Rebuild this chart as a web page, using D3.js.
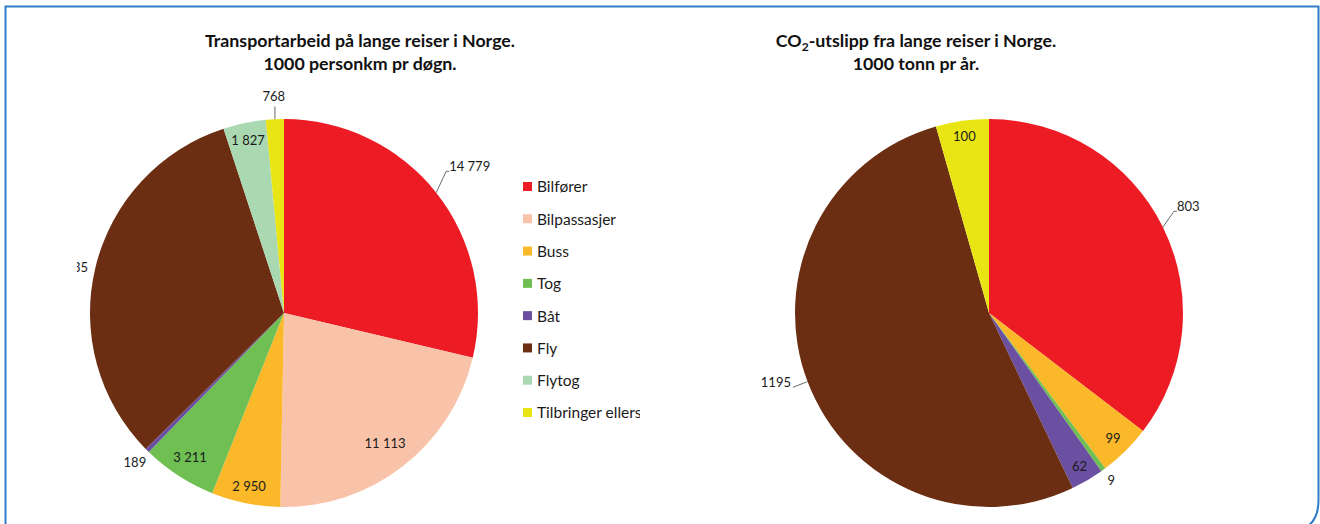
<!DOCTYPE html>
<html><head><meta charset="utf-8">
<script src="https://cdn.jsdelivr.net/npm/d3@7"></script>
<style>html,body{margin:0;padding:0;background:#fff;overflow:hidden}svg{display:block}</style>
</head><body>
<svg id="c" width="1320" height="524"></svg>
<script>
const categories = ["Bilfører","Bilpassasjer","Buss","Tog","Båt","Fly","Flytog","Tilbringer ellers"];
const transportValues = [14779, 11113, 2950, 3211, 189, 16635, 1827, 768];
const co2Values = [803, 0, 99, 9, 62, 1195, 0, 100];
const colors = ["#ED1C24","#F9C3A9","#FBB829","#6FBF53","#6B4FA0","#6B2E12","#AAD8B0","#E9E514"];
const titleLeft = ["Transportarbeid på lange reiser i Norge.","1000 personkm pr døgn."];

const svg = d3.select("#c");
const FONT = "Lato, 'Open Sans', sans-serif";

// frame
svg.append("path")
  .attr("d","M5.5,540 L5.5,6.5 L1318.5,6.5 L1318.5,500 Q1318.5,532 1286,532 L5.5,532")
  .attr("fill","none").attr("stroke","#2F7DC9").attr("stroke-width",2);

const color = d3.scaleOrdinal().domain(categories).range(colors);
const R = 194;
const fmtSpace = v => d3.format(",")(v).replace(/,/g, " ");

function drawPie(cfg){
  const g = svg.append("g");
  if (cfg.clip){
    svg.append("clipPath").attr("id",cfg.clip.id).append("rect")
      .attr("x",cfg.clip.x).attr("y",cfg.clip.y).attr("width",cfg.clip.w).attr("height",cfg.clip.h);
    g.attr("clip-path","url(#"+cfg.clip.id+")");
  }
  const pg = g.append("g").attr("transform",`translate(${cfg.cx},${cfg.cy})`);
  const data = categories.map((c,i)=>({cat:c, value:cfg.values[i], i}));
  const pie = d3.pie().value(d=>d.value).sort(null);
  const arcs = pie(data);
  const arc = d3.arc().innerRadius(0).outerRadius(R);
  pg.selectAll("path.s").data(arcs.filter(a=>a.data.value>0)).join("path")
    .attr("class","s").attr("d",arc).attr("fill",d=>color(d.data.cat));
  arcs.forEach((a,i)=>{
    const spec = cfg.labels[i];
    if (!spec || a.data.value<=0) return;
    const mid = (a.startAngle+a.endAngle)/2;
    const la = mid + (spec.da||0)*Math.PI/180;
    const sx = Math.sin(mid), sy = -Math.cos(mid);
    const px = Math.sin(la)*R*spec.k, py = -Math.cos(la)*R*spec.k;
    const txt = cfg.fmt(a.data.value);
    const t = pg.append("text").attr("x",px).attr("y",py).attr("dy","0.35em")
      .attr("text-anchor","middle").attr("font-family",FONT).attr("font-size",13)
      .attr("fill","#1b1b1b").text(txt);
    if (spec.leader){
      const bb = t.node().getBBox();
      const ex = sx*R, ey = sy*R;
      const base = py + 5;
      let pts;
      if (spec.leader === "top"){
        pts = [[ex,ey],[ex,bb.y+bb.height+3]];
      } else if (sx > 0){
        pts = [[ex,ey],[bb.x-3,base],[bb.x,base]];
      } else {
        pts = [[ex,ey],[bb.x+bb.width+2,base]];
      }
      pg.append("path").attr("d",d3.line()(pts)).attr("fill","none")
        .attr("stroke","#6b6b6b").attr("stroke-width",1);
    }
  });
  const tt = svg.append("text").attr("text-anchor","middle").attr("font-family",FONT)
    .attr("font-weight","bold").attr("font-size",cfg.titleSize).attr("fill","#111");
  cfg.title(tt);
}

drawPie({
  cx:284, cy:313, values:transportValues, fmt:fmtSpace,
  clip:{id:"clipL", x:77, y:0, w:1000, h:524},
  titleSize:17.8,
  title: t => {
    t.append("tspan").attr("x",360).attr("y",47).text(titleLeft[0]);
    t.append("tspan").attr("x",360).attr("y",70).text(titleLeft[1]);
  },
  labels:[
    {k:1.22, leader:"side"},
    {k:0.85},
    {k:0.91},
    {k:0.89},
    {k:1.09},
    {k:1.14, da:-1.8},
    {k:0.91},
    {k:1.12, leader:"top"}
  ]
});

drawPie({
  cx:989, cy:313, values:co2Values, fmt:v=>String(v),
  titleSize:17.8,
  title: t => {
    const l1 = t.append("tspan").attr("x",916).attr("y",47);
    l1.append("tspan").text("CO");
    l1.append("tspan").attr("font-size",12).attr("dy",4).text("2");
    l1.append("tspan").attr("dy",-4).text("-utslipp fra lange reiser i Norge.");
    t.append("tspan").attr("x",916).attr("y",70).text("1000 tonn pr år.");
  },
  labels:[
    {k:1.165, leader:"side", da:-1.9},
    null,
    {k:0.91},
    {k:1.07},
    {k:0.92},
    {k:1.155, leader:"side", da:2.7},
    null,
    {k:0.92}
  ]
});

// legend
svg.append("clipPath").attr("id","clipLeg").append("rect").attr("x",500).attr("y",160).attr("width",140).attr("height",280);
const leg = svg.append("g").attr("clip-path","url(#clipLeg)");
const ly = d3.scalePoint().domain(categories).range([187, 413]);
const items = leg.selectAll("g.li").data(categories).join("g").attr("class","li")
  .attr("transform",d=>`translate(523,${ly(d)})`);
items.append("rect").attr("x",0).attr("y",-5).attr("width",9).attr("height",9).attr("fill",d=>color(d));
items.append("text").attr("x",14).attr("y",0).attr("dy","0.35em").attr("font-family",FONT)
  .attr("font-size",15.5).attr("fill","#1b1b1b").text(d=>d);
</script>
</body></html>
